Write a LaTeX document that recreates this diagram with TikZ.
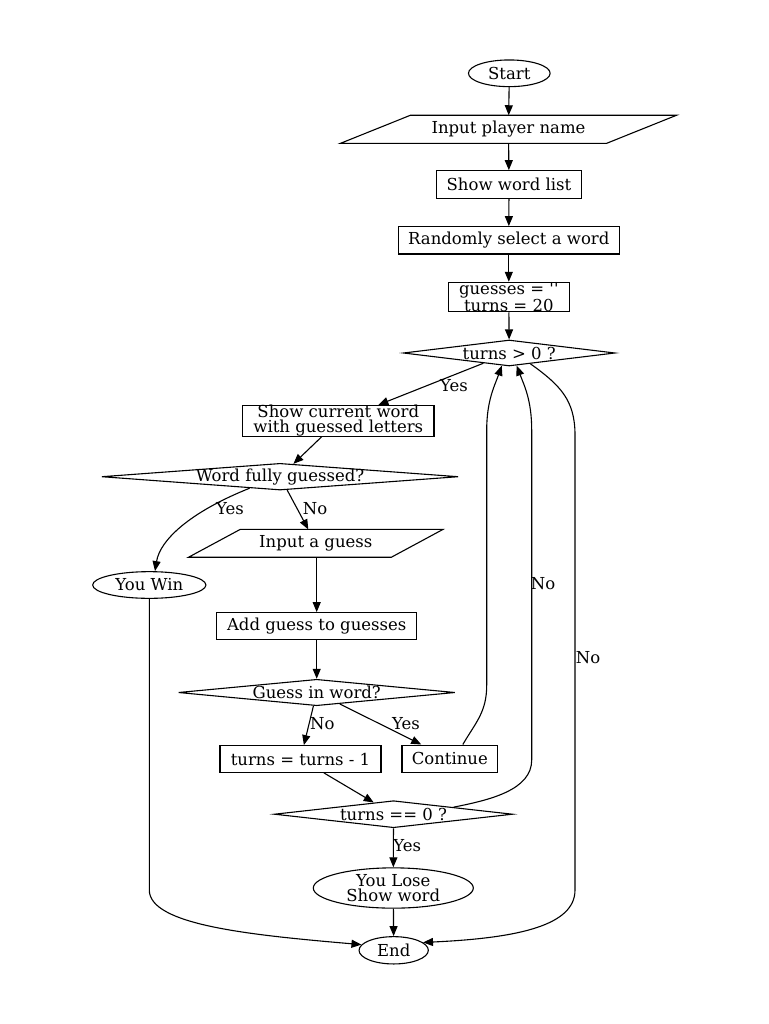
\documentclass[tikz,border=0pt]{standalone}
\usepackage{fontspec}
\setmainfont{DejaVu Serif}
\usetikzlibrary{shapes.geometric,arrows.meta,calc}
\begin{document}
\begin{tikzpicture}[x=1pt,y=-1pt,
  every node/.style={font=\fontsize{16.5}{14.5}\selectfont, inner sep=0pt, line width=1.1pt},
  box/.style={draw, rectangle, align=center},
  oval/.style={draw, ellipse, align=center},
  dia/.style={draw, diamond},
  para/.style={rectangle, align=center},
  lbl/.style={},
  arr/.style={line width=1.1pt, -{Triangle[length=10pt,width=8pt]}},
  pline/.style={line width=1.1pt, line join=miter}]
\useasboundingbox (0,0) rectangle (768,1024);
% nodes
\node[oval, minimum width=81.7, minimum height=26.7] (start) at (509.3,73.3) {Start};
\node[para, minimum width=265, minimum height=27] (name) at (508.5,129.3) {Input player name};
\draw[pline] ([xshift=35pt]name.north west) -- ([xshift=35pt]name.north east) -- ([xshift=-35pt]name.south east) -- ([xshift=-35pt]name.south west) -- cycle;
\node[box, minimum width=145.7, minimum height=27.6] (list) at (509,184.5) {Show word list};
\node[box, minimum width=221, minimum height=27.3] (rand) at (508.8,240.3) {Randomly select a word};
\node[box, minimum width=121, minimum height=29.4] (init) at (508.8,297) {guesses = \textquotesingle\textquotesingle\\turns = 20};
\node[dia, minimum width=211.7, minimum height=26] (t0) at (509.2,353) {\makebox[0pt]{turns > 0 ?}};
\node[box, minimum width=191.3, minimum height=28.3] (show) at (338.3,420.8) {Show current word\\with guessed letters};
\node[dia, minimum width=356.7, minimum height=26.7] (full) at (280,476.7) {\makebox[0pt]{Word fully guessed?}};
\node[oval, minimum width=113.3, minimum height=26.7] (win) at (149.3,585) {You Win};
\node[para, minimum width=201.7, minimum height=26.7] (guess) at (315.8,543.3) {Input a guess};
\draw[pline] ([xshift=25.8pt]guess.north west) -- ([xshift=25.8pt]guess.north east) -- ([xshift=-25.8pt]guess.south east) -- ([xshift=-25.8pt]guess.south west) -- cycle;
\node[box, minimum width=200, minimum height=26.7] (add) at (316.7,626) {Add guess to guesses};
\node[dia, minimum width=276.7, minimum height=26.4] (inword) at (316.7,692.5) {\makebox[0pt]{Guess in word?}};
\node[box, minimum width=161, minimum height=26.7] (dec) at (300.5,759) {turns = turns - 1};
\node[box, minimum width=95.7, minimum height=27.3] (cont) at (449.8,758.7) {Continue};
\node[dia, minimum width=238.4, minimum height=27] (t00) at (393.5,814.2) {\makebox[0pt]{turns == 0 ?}};
\node[oval, minimum width=160, minimum height=40.3] (lose) at (393.3,888) {You Lose\\Show word};
\node[oval, minimum width=69.3, minimum height=27.3] (end) at (393.7,950.3) {End};
% edges
\draw[arr] (start) -- (name);
\draw[arr] (name) -- (list);
\draw[arr] (list) -- (rand);
\draw[arr] (rand) -- (init);
\draw[arr] (init) -- (t0);
\draw[arr] (t0) -- (show);
\draw[arr] (show) -- (full);
\draw[arr] ($(full.south)!0.17!(full.west)$) .. controls (190,512) and (160,540) .. ([xshift=5.7pt]win.north);
\draw[arr] ($(full.south)!0.04!(full.east)$) -- ([xshift=-7.5pt]guess.north);
\draw[arr] (add.north |- guess.south) -- (add.north);
\draw[arr] (add) -- (inword);
\draw[arr] (inword) -- (dec);
\draw[arr] (inword) -- (cont);
\draw[arr] ([xshift=13pt]cont.north) .. controls (476,722) and (486.7,712) .. (486.7,685) -- (486.7,430) .. controls (486.7,400) and (495,385) .. ($(t0.south)!0.07!(t0.west)$);
\draw[arr] (dec) -- (t00);
\draw[arr] (t00.north east) .. controls (490,800) and (531.7,790) .. (531.7,760) -- (531.7,430) .. controls (531.7,400) and (524,385) .. ($(t0.south)!0.07!(t0.east)$);
\draw[arr] ($(t0.south)!0.2!(t0.east)$) .. controls (560,385) and (575,400) .. (575,435) -- (575,890) .. controls (575,925) and (520,938) .. (end.15);
\draw[arr] (t00) -- (lose);
\draw[arr] (lose) -- (end);
\draw[arr] (win) -- (149.3,890) .. controls (149.3,925) and (250,935) .. (end.170);
% labels
\node[lbl] (l1) at (454,386) {Yes};
\node[lbl] (l2) at (230,509) {Yes};
\node[lbl] (l3) at (315,509) {No};
\node[lbl] (l4) at (322.3,724) {No};
\node[lbl] (l5) at (406,724) {Yes};
\node[lbl] (l6) at (543,584) {No};
\node[lbl] (l7) at (588,658) {No};
\node[lbl] (l8) at (407.3,846) {Yes};
\end{tikzpicture}
\end{document}
